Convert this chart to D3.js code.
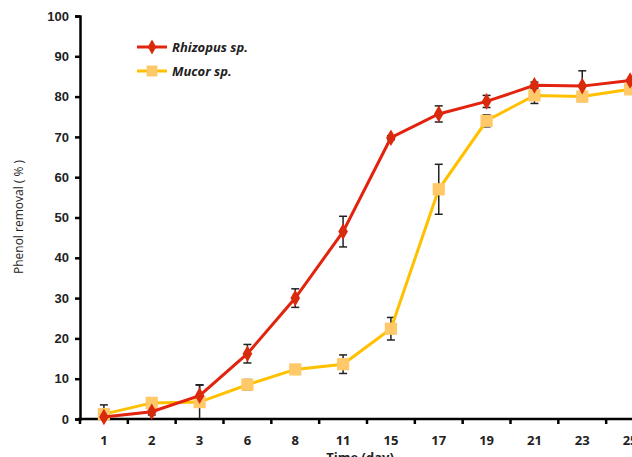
<!DOCTYPE html>
<html>
<head>
<meta charset="utf-8">
<script src="https://cdn.jsdelivr.net/npm/d3@7"></script>
<style>
  body { margin: 0; background: #fff; }
  svg { display: block; font-family: "Open Sans", "Noto Sans", sans-serif; }
  .tick text { font-size: 13px; font-weight: bold; fill: #222; }
  .legend-text { font-size: 13px; font-weight: bold; font-style: italic; fill: #222; }
</style>
</head>
<body>
<div id="chart"></div>
<script>
// data
const days = ["1", "2", "3", "6", "8", "11", "15", "17", "19", "21", "23", "25"];
const rhizopus = [0.5, 1.8, 5.8, 16.2, 30.0, 46.5, 69.8, 75.7, 78.8, 82.8, 82.6, 84.0];
const rhizopusErr = [0, 0.8, 2.7, 2.3, 2.3, 3.8, 0.5, 2.0, 1.5, 0.8, 3.8, 0];
const mucor = [1.2, 4.0, 4.2, 8.5, 12.3, 13.6, 22.4, 57.0, 74.0, 80.3, 80.0, 81.8];
const mucorErr = [2.3, 0.5, 4.2, 1.3, 1.0, 2.3, 2.8, 6.2, 1.5, 2.0, 0.5, 0];
const yTicks = [0, 10, 20, 30, 40, 50, 60, 70, 80, 90, 100];

const width = 632, height = 457;
const svg = d3.select("#chart")
    .append("svg")
    .attr("width", width)
    .attr("height", height);

// scales
const xScale = d3.scaleBand().domain(days).range([80, 654]);
const yScale = d3.scaleLinear().domain([0, 100]).range([419, 16]);
const cx = d => xScale(d) + xScale.bandwidth() / 2;

// y axis
const yAxis = svg.append("g")
    .attr("transform", "translate(80,0)")
    .call(d3.axisLeft(yScale).tickValues(yTicks).tickSize(5).tickPadding(6));
yAxis.select(".domain").attr("stroke", "#000").attr("stroke-width", 2.5);
yAxis.selectAll(".tick line").attr("stroke", "#000").attr("stroke-width", 2.5);

// x axis - ticks at band edges, labels at centers
const xAxis = svg.append("g")
    .attr("transform", "translate(0,419)");
xAxis.append("line")
    .attr("x1", 78).attr("x2", width)
    .attr("stroke", "#000").attr("stroke-width", 2.5);
xAxis.selectAll(".edge")
    .data(days)
    .join("line")
    .attr("class", "edge")
    .attr("x1", d => xScale(d)).attr("x2", d => xScale(d))
    .attr("y1", 0).attr("y2", 5)
    .attr("stroke", "#000").attr("stroke-width", 2.5);
xAxis.selectAll(".xlab")
    .data(days)
    .join("text")
    .attr("class", "xlab")
    .attr("x", d => cx(d))
    .attr("y", 26)
    .attr("text-anchor", "middle")
    .style("font-size", "13px")
    .style("font-weight", "bold")
    .style("fill", "#222")
    .text(d => d);

// axis labels
svg.append("text")
    .attr("x", 360).attr("y", 462)
    .attr("text-anchor", "middle")
    .style("font-size", "13px")
    .style("font-weight", "bold")
    .style("fill", "#222")
    .text("Time (day)");

svg.append("text")
    .attr("transform", "rotate(-90)")
    .attr("x", -217).attr("y", 23)
    .attr("text-anchor", "middle")
    .style("font-size", "12px")
    .style("fill", "#222")
    .text("Phenol removal ( % )");

const series = [
    { name: "Rhizopus sp.", values: rhizopus, err: rhizopusErr, line: "#e2230e", marker: "#d92a0c", shape: d3.symbolDiamond, size: 80 },
    { name: "Mucor sp.", values: mucor, err: mucorErr, line: "#ffc000", marker: "#ffc96a", shape: d3.symbolSquare, size: 150 }
];

const line = d3.line()
    .x(d => cx(d.day))
    .y(d => yScale(d.v));

// error bars first
series.forEach(s => {
    const pts = days.map((day, i) => ({ day, v: s.values[i], e: s.err[i] })).filter(p => p.e > 0);
    const g = svg.append("g").attr("stroke", "#222").attr("stroke-width", 1.5);
    g.selectAll(".bar").data(pts).join("line")
        .attr("x1", d => cx(d.day)).attr("x2", d => cx(d.day))
        .attr("y1", d => yScale(Math.max(0, d.v - d.e))).attr("y2", d => yScale(d.v + d.e));
    g.selectAll(".capT").data(pts).join("line")
        .attr("x1", d => cx(d.day) - 4).attr("x2", d => cx(d.day) + 4)
        .attr("y1", d => yScale(d.v + d.e)).attr("y2", d => yScale(d.v + d.e));
    g.selectAll(".capB").data(pts.filter(d => d.v - d.e > 0)).join("line")
        .attr("x1", d => cx(d.day) - 4).attr("x2", d => cx(d.day) + 4)
        .attr("y1", d => yScale(d.v - d.e)).attr("y2", d => yScale(d.v - d.e));
});

// lines and markers (mucor under rhizopus)
[series[1], series[0]].forEach(s => {
    const pts = days.map((day, i) => ({ day, v: s.values[i] }));
    svg.append("path")
        .datum(pts)
        .attr("fill", "none")
        .attr("stroke", s.line)
        .attr("stroke-width", 3)
        .attr("d", line);
    svg.selectAll(null)
        .data(pts)
        .join("path")
        .attr("transform", d => `translate(${cx(d.day)},${yScale(d.v)})`)
        .attr("d", d3.symbol().type(s.shape).size(s.size))
        .attr("fill", s.marker);
});

// legend
series.forEach((s, i) => {
    const y = 47 + i * 24;
    svg.append("line")
        .attr("x1", 137).attr("x2", 167)
        .attr("y1", y).attr("y2", y)
        .attr("stroke", s.line).attr("stroke-width", 3);
    svg.append("path")
        .attr("transform", `translate(152,${y})`)
        .attr("d", d3.symbol().type(s.shape).size(s.size * 0.8))
        .attr("fill", s.marker);
    svg.append("text")
        .attr("class", "legend-text")
        .attr("x", 172).attr("y", y + 5)
        .text(s.name);
});
</script>
</body>
</html>
